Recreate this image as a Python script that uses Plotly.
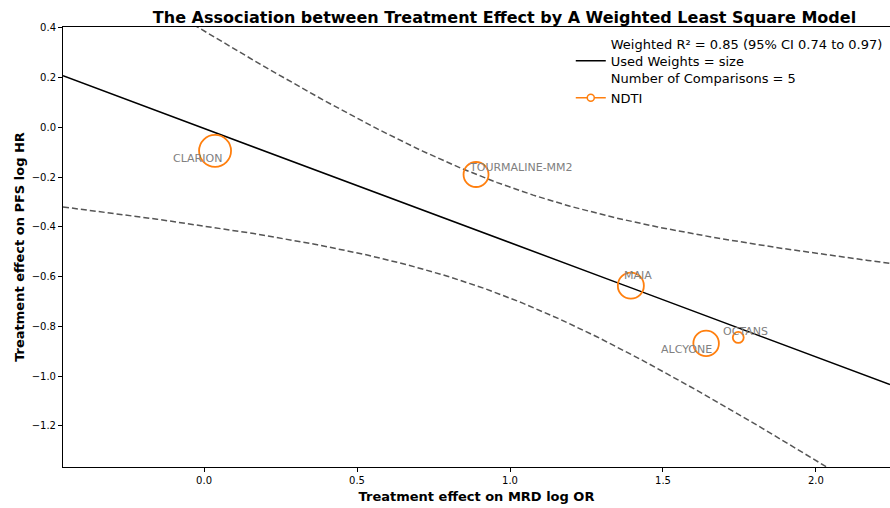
import numpy as np
import plotly.graph_objects as go

# ---- data -------------------------------------------------------------
studies = ["CLARION", "TOURMALINE-MM2", "MAIA", "ALCYONE", "OCTANS"]
mrd_log_or = [0.036, 0.889, 1.395, 1.641, 1.746]     # treatment effect on MRD (log OR)
pfs_log_hr = [-0.094, -0.189, -0.636, -0.868, -0.844]  # treatment effect on PFS (log HR)
weights = [181, 125, 133, 129, 36]                   # regression weights ("size")

x_ticks = [0.0, 0.5, 1.0, 1.5, 2.0]
y_ticks = [0.4, 0.2, 0.0, -0.2, -0.4, -0.6, -0.8, -1.0, -1.2]
x_range = [-0.461, 2.242]
y_range = [-1.365, 0.404]

fit_label = ("Weighted R\u00b2 = 0.85 (95% CI 0.74 to 0.97)<br>"
             "Used Weights = size<br>"
             "Number of Comparisons = 5")

# ---- weighted least squares fit with 95% confidence band --------------
x = np.asarray(mrd_log_or, float)
y = np.asarray(pfs_log_hr, float)
w = np.asarray(weights, float)
n = len(x)
X = np.column_stack([np.ones(n), x])
XtWX = X.T @ (w[:, None] * X)
beta = np.linalg.solve(XtWX, X.T @ (w * y))
resid = y - X @ beta
s2 = np.sum(w * resid ** 2) / (n - 2)
cov = s2 * np.linalg.inv(XtWX)
t_crit = 3.182446305284263  # two-sided 95% t quantile, df = 3

xs = np.linspace(x_range[0], x_range[1], 300)
Xs = np.column_stack([np.ones_like(xs), xs])
yhat = Xs @ beta
se = np.sqrt(np.sum((Xs @ cov) * Xs, axis=1))
upper = yhat + t_crit * se
lower = yhat - t_crit * se

# marker diameter scales with the weight
marker_diam = w ** (2.0 / 3.0)

# ---- figure ------------------------------------------------------------
orange = "#ff7f0e"
band_style = dict(color="#555555", width=1.5, dash="6px,3px")

fig = go.Figure()
fig.add_trace(go.Scatter(x=xs, y=yhat, mode="lines", name=fit_label,
                         line=dict(color="black", width=1.5)))
fig.add_trace(go.Scatter(x=xs, y=upper, mode="lines", line=band_style,
                         showlegend=False, hoverinfo="skip"))
fig.add_trace(go.Scatter(x=xs, y=lower, mode="lines", line=band_style,
                         showlegend=False, hoverinfo="skip"))
fig.add_trace(go.Scatter(
    x=mrd_log_or, y=pfs_log_hr, mode="markers", text=studies, showlegend=False,
    marker=dict(size=marker_diam, sizemode="diameter", symbol="circle-open",
                color=orange, opacity=1, line=dict(color=orange, width=1.8))))
# legend entry for the study markers
fig.add_trace(go.Scatter(
    x=[None], y=[None], mode="lines+markers", name="NDTI",
    line=dict(color=orange, width=1.5),
    marker=dict(symbol="circle", size=7, color="white",
                line=dict(color=orange, width=1.5))))

label_offsets = {
    "CLARION": (-18, -8),
    "TOURMALINE-MM2": (45, 7),
    "MAIA": (7, 10),
    "ALCYONE": (-20, -6),
    "OCTANS": (7, 6),
}
for name, xv, yv in zip(studies, mrd_log_or, pfs_log_hr):
    dx, dy = label_offsets[name]
    fig.add_annotation(x=xv, y=yv, text=name, showarrow=False,
                       xshift=dx, yshift=dy,
                       font=dict(family="DejaVu Sans", size=11, color="#808080"))

axis_common = dict(showgrid=False, zeroline=False, showline=True,
                   linecolor="black", linewidth=1, ticks="outside",
                   ticklen=4, tickcolor="black", tickwidth=1,
                   tickfont=dict(family="DejaVu Sans", size=10, color="black"))

fig.update_layout(
    width=890, height=508,
    margin=dict(l=63, r=0, t=27, b=41),
    paper_bgcolor="white", plot_bgcolor="white",
    font=dict(family="DejaVu Sans", color="black"),
    title=dict(text="<b>The Association between Treatment Effect by A Weighted Least Square Model</b>",
               x=504.5 / 890, xanchor="center", y=1 - 17 / 508, yanchor="middle",
               font=dict(family="DejaVu Sans", size=16, color="black")),
    xaxis=dict(range=x_range, tickvals=x_ticks, tickformat=".1f", mirror=True,
               title=dict(text="<b>Treatment effect on MRD log OR</b>",
                          font=dict(family="DejaVu Sans", size=13), standoff=6),
               **axis_common),
    yaxis=dict(range=y_range, tickvals=y_ticks, tickformat=".1f",
               title=dict(text="<b>Treatment effect on PFS log HR</b>",
                          font=dict(family="DejaVu Sans", size=13), standoff=4),
               **axis_common),
    legend=dict(x=0.614, xanchor="left", y=1.0 - 2 / 440, yanchor="top",
                bgcolor="rgba(0,0,0,0)", font=dict(family="DejaVu Sans", size=13),
                tracegroupgap=0),
    showlegend=True,
)

fig.write_html("out.html")
